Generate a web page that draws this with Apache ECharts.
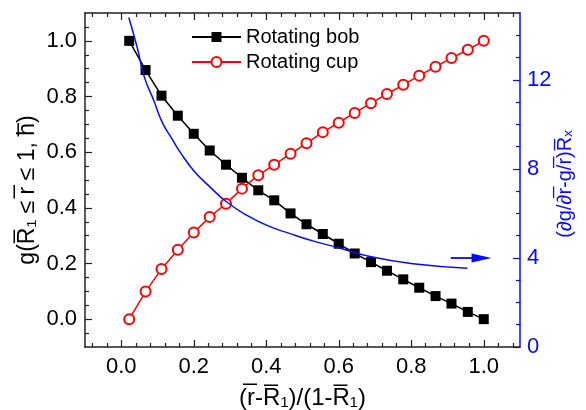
<!DOCTYPE html>
<html>
<head>
<meta charset="utf-8">
<script src="https://cdn.jsdelivr.net/npm/echarts@6/dist/echarts.min.js"></script>
<style>
  html, body { margin: 0; padding: 0; background: #fff; }
  #chart { width: 586px; height: 410px; }
</style>
</head>
<body>
<div id="chart"></div>
<script>
// Normalised radial position (r - R1)/(1 - R1)
const radialPos = [0.022, 0.067, 0.111, 0.156, 0.2, 0.244, 0.289, 0.333, 0.378, 0.422, 0.467, 0.511,
                   0.556, 0.6, 0.644, 0.689, 0.733, 0.778, 0.822, 0.867, 0.911, 0.956, 1.0];
// g for the rotating bob case
const bobValues = [1.0, 0.895, 0.803, 0.731, 0.666, 0.606, 0.555, 0.508, 0.463, 0.427, 0.38, 0.341,
                   0.306, 0.271, 0.236, 0.205, 0.174, 0.143, 0.113, 0.083, 0.056, 0.026, 0.0];
// g for the rotating cup case
const cupValues = [0.0, 0.099, 0.18, 0.249, 0.311, 0.367, 0.415, 0.469, 0.517, 0.555, 0.594, 0.632,
                   0.672, 0.706, 0.741, 0.776, 0.809, 0.842, 0.875, 0.907, 0.938, 0.968, 1.0];
// (dg/dr - g/r) Rx curve, right-hand axis
const shearX = [0.021, 0.044, 0.064, 0.09, 0.113, 0.14, 0.163, 0.2, 0.246, 0.292, 0.347, 0.402,
                0.466, 0.54, 0.6, 0.686, 0.805, 0.955];
const shearY = [14.8, 13.45, 12.11, 11.06, 10.09, 9.35, 8.74, 7.92, 7.17, 6.5, 5.91, 5.46,
                5.09, 4.71, 4.46, 4.06, 3.74, 3.54];

// Axis ticks and labels
const xMajor = [0.0, 0.2, 0.4, 0.6, 0.8, 1.0];
const yMajor = [0.0, 0.2, 0.4, 0.6, 0.8, 1.0];
const rMajor = [0, 4, 8, 12];
const xMinorStep = 0.04, yMinorStep = 0.05, rMinorStep = 1;

function minorTicks(lo, hi, step, majorStep) {
  const out = [];
  const n0 = Math.ceil(lo / step - 1e-9), n1 = Math.floor(hi / step + 1e-9);
  for (let n = n0; n <= n1; n++) {
    const v = +(n * step).toFixed(4);
    if (v <= lo || v >= hi) continue;
    const r = v / majorStep;
    if (Math.abs(r - Math.round(r)) < 1e-6) continue;
    out.push(v);
  }
  return out;
}
const xMinor = minorTicks(-0.1, 1.1, xMinorStep, 0.2);
const yMinor = minorTicks(-0.1, 1.1, yMinorStep, 0.2);
const rMinor = minorTicks(0, 15, rMinorStep, 4);

const FONT = 'Liberation Sans';
const AXIS_COLOR = '#222';
const BLUE = '#0a0aff';

function frameAxis(extra) {
  return Object.assign({
    type: 'value',
    min: -0.1, max: 1.1,
    splitLine: { show: false },
    axisLine: { show: true, onZero: false, lineStyle: { color: AXIS_COLOR, width: 1.5 } },
    axisTick: { show: true, inside: true, length: 7, lineStyle: { color: AXIS_COLOR, width: 1.2 } },
    axisLabel: { show: false },
    nameMoveOverlap: false
  }, extra);
}
function minorAxis(position, ticks, color, range) {
  return {
    type: 'value', position: position,
    min: range[0], max: range[1],
    splitLine: { show: false },
    axisLine: { show: false, onZero: false },
    axisLabel: { show: false },
    axisTick: { show: true, inside: true, length: 4, customValues: ticks, lineStyle: { color: color, width: 1.2 } }
  };
}

const chart = echarts.init(document.getElementById('chart'), null, { renderer: 'canvas' });

chart.setOption({
  animation: false,
  backgroundColor: '#fff',
  textStyle: { fontFamily: FONT },
  grid: { left: 85, right: 66, top: 13, bottom: 63, containLabel: false, outerBoundsMode: 'none' },
  legend: {
    orient: 'vertical',
    left: 191, top: 27,
    padding: 0,
    itemWidth: 49, itemHeight: 12.5, itemGap: 5,
    data: ['Rotating bob', 'Rotating cup'],
    textStyle: { fontFamily: FONT, fontSize: 20, color: '#000' }
  },
  xAxis: [
    frameAxis({
      position: 'bottom',
      axisTick: { show: true, inside: true, length: 7, customValues: xMajor, lineStyle: { color: AXIS_COLOR, width: 1.2 } },
      axisLabel: {
        show: true, customValues: xMajor, margin: 9,
        fontFamily: FONT, fontSize: 22, color: '#000',
        formatter: v => v.toFixed(1)
      },
      name: '(r\u0305-R\u0305\u2081)/(1-R\u0305\u2081)',
      nameLocation: 'middle', nameGap: 39,
      nameTextStyle: { fontFamily: FONT, fontSize: 24, color: '#000' }
    }),
    minorAxis('bottom', xMinor, AXIS_COLOR, [-0.1, 1.1]),
    frameAxis({
      position: 'top',
      axisTick: { show: true, inside: true, length: 7, customValues: xMajor, lineStyle: { color: AXIS_COLOR, width: 1.2 } }
    }),
    minorAxis('top', xMinor, AXIS_COLOR, [-0.1, 1.1])
  ],
  yAxis: [
    frameAxis({
      position: 'left',
      axisTick: { show: true, inside: true, length: 7, customValues: yMajor, lineStyle: { color: AXIS_COLOR, width: 1.2 } },
      axisLabel: {
        show: true, customValues: yMajor, margin: 8,
        fontFamily: FONT, fontSize: 22, color: '#000',
        formatter: v => v.toFixed(1)
      },
      name: 'g(R\u0305\u2081 \u2264 r\u0305 \u2264 1, h\u0305)',
      nameLocation: 'middle', nameGap: 46,
      nameTextStyle: { fontFamily: FONT, fontSize: 23, color: '#000', padding: [0, 20, 0, 0] }
    }),
    minorAxis('left', yMinor, AXIS_COLOR, [-0.1, 1.1]),
    {
      type: 'value', position: 'right',
      min: 0, max: 15,
      splitLine: { show: false },
      axisLine: { show: true, onZero: false, lineStyle: { color: BLUE, width: 1.5 } },
      axisTick: { show: true, inside: true, length: 7, customValues: rMajor, lineStyle: { color: BLUE, width: 1.2 } },
      axisLabel: {
        show: true, customValues: rMajor, margin: 7,
        fontFamily: FONT, fontSize: 22, color: BLUE,
        formatter: v => String(v)
      },
      name: '(\u2202g/\u2202r\u0305-g/r\u0305)R\u0305\u2093',
      nameLocation: 'middle', nameGap: 35,
      nameTextStyle: { fontFamily: FONT, fontSize: 20, color: BLUE, padding: [0, 8, 0, 0] },
      nameMoveOverlap: false
    },
    minorAxis('right', rMinor, BLUE, [0, 15])
  ],
  series: [
    {
      name: 'Rotating bob',
      type: 'line',
      xAxisIndex: 0, yAxisIndex: 0,
      data: radialPos.map((x, i) => [x, bobValues[i]]),
      symbol: 'rect', symbolSize: 10,
      itemStyle: { color: '#000' },
      lineStyle: { color: '#000', width: 1.5 },
      z: 3
    },
    {
      name: 'Rotating cup',
      type: 'line',
      xAxisIndex: 0, yAxisIndex: 0,
      data: radialPos.map((x, i) => [x, cupValues[i]]),
      symbol: 'emptyCircle', symbolSize: 10,
      itemStyle: { color: '#ff0000', borderWidth: 1.5 },
      lineStyle: { color: '#ff0000', width: 1.5 },
      z: 4
    },
    {
      name: 'shear',
      type: 'line',
      xAxisIndex: 0, yAxisIndex: 2,
      data: shearX.map((x, i) => [x, shearY[i]]),
      smooth: true,
      symbol: 'none',
      lineStyle: { color: BLUE, width: 1.5 },
      z: 5,
      markLine: {
        silent: true,
        animation: false,
        symbol: ['none', 'triangle'],
        symbolSize: [9, 20],
        label: { show: false },
        lineStyle: { color: BLUE, width: 1.8, type: 'solid' },
        data: [[{ coord: [0.909, 4] }, { coord: [0.994, 4] }]]
      }
    }
  ]
});
</script>
</body>
</html>
